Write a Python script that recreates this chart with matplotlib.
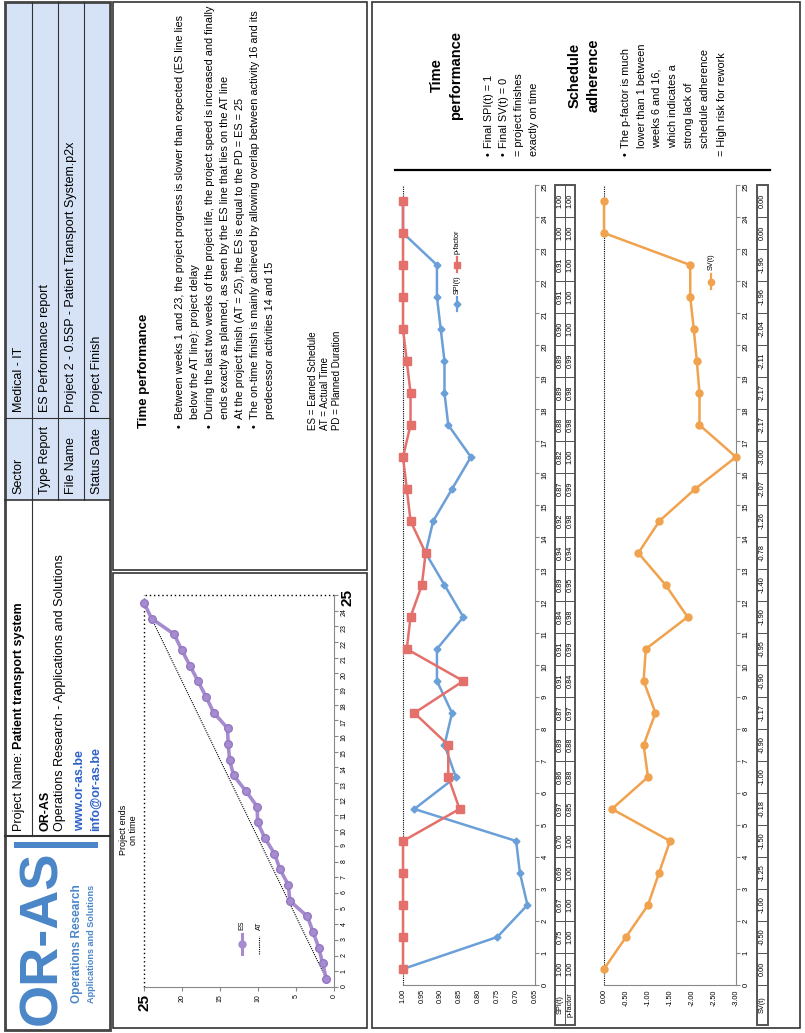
import matplotlib
matplotlib.use('Agg')
import matplotlib.pyplot as plt
from matplotlib.patches import Rectangle
from matplotlib.lines import Line2D

plt.rcParams['font.family'] = ['Liberation Sans', 'DejaVu Sans']

# ---------------- data ----------------
weeks = [1, 2, 3, 4, 5, 6, 7, 8, 9, 10, 11, 12, 13, 14, 15, 16, 17, 18, 19, 20, 21, 22, 23, 24, 25]
spi = [1.00, 0.75, 0.67, 0.69, 0.70, 0.97, 0.86, 0.89, 0.87, 0.91, 0.91, 0.84, 0.89,
       0.94, 0.92, 0.87, 0.82, 0.88, 0.89, 0.89, 0.90, 0.91, 0.91, 1.00, 1.00]
pfactor = [1.00, 1.00, 1.00, 1.00, 1.00, 0.85, 0.88, 0.88, 0.97, 0.84, 0.99, 0.98, 0.95,
           0.94, 0.98, 0.99, 1.00, 0.98, 0.98, 0.99, 1.00, 1.00, 1.00, 1.00, 1.00]
sv = [0.00, -0.50, -1.00, -1.25, -1.50, -0.18, -1.00, -0.90, -1.17, -0.90, -0.95, -1.90, -1.40,
      -0.78, -1.26, -2.07, -3.00, -2.17, -2.17, -2.11, -2.04, -1.96, -1.96, 0.00, 0.00]
es = [1.00, 1.50, 2.00, 2.75, 3.50, 5.82, 6.00, 7.10, 7.83, 9.10, 10.05, 10.10, 11.60,
      13.22, 13.74, 13.93, 14.00, 15.83, 16.83, 17.89, 18.96, 20.04, 21.04, 24.00, 25.00]
at = [1, 2, 3, 4, 5, 6, 7, 8, 9, 10, 11, 12, 13, 14, 15, 16, 17, 18, 19, 20, 21, 22, 23, 24, 25]
es_ticks = [0, 5, 10, 15, 20, 25]
spi_ticks = [1.00, 0.95, 0.90, 0.85, 0.80, 0.75, 0.70, 0.65]
sv_ticks = [0.00, -0.50, -1.00, -1.50, -2.00, -2.50, -3.00]

W, H = 805, 1033
fig = plt.figure(figsize=(W / 100, H / 100), dpi=100)
fig.patch.set_facecolor('white')

def fx(x):
    return x / W

def fy(y):
    return 1 - y / H

def add_ax(x0, y0, x1, y1):
    return fig.add_axes([fx(x0), fy(y1), (x1 - x0) / W, (y1 - y0) / H])

def rect(x0, y0, x1, y1, ec='#333333', lw=1.0, fc='none', z=0):
    fig.add_artist(Rectangle((fx(x0), fy(y1)), (x1 - x0) / W, (y1 - y0) / H,
                             transform=fig.transFigure, ec=ec, fc=fc, lw=lw, zorder=z))

def hline(x0, x1, y, color='#333333', lw=1.0, ls='-'):
    fig.add_artist(Line2D([fx(x0), fx(x1)], [fy(y), fy(y)], transform=fig.transFigure,
                          color=color, lw=lw, ls=ls))

def vline(x, y0, y1, color='#333333', lw=1.0, ls='-'):
    fig.add_artist(Line2D([fx(x), fx(x)], [fy(y0), fy(y1)], transform=fig.transFigure,
                          color=color, lw=lw, ls=ls))

def vtext(x, y, s, size, weight='normal', color='black', ha='left', **kw):
    return fig.text(fx(x), fy(y), s, rotation=90, rotation_mode='anchor', ha=ha,
                    va='center', fontsize=size, fontweight=weight, color=color, **kw)

# ---------------- header strip ----------------
blue_fill = '#d6e2f5'
rect(5, 2, 110, 500, ec='none', fc=blue_fill)
rect(5, 2, 110, 1030, ec='#444444', lw=2)
for xx in [32, 58, 84]:
    vline(xx, 2, 500, lw=0.8)
vline(32, 500, 836, lw=0.8)
hline(5, 110, 418, lw=0.8)
hline(5, 110, 500, lw=1.2)
hline(5, 110, 836, lw=1.5)

hdr_labels = ['Sector', 'Type Report', 'File Name', 'Status Date']
hdr_values = ['Medical - IT', 'ES Performance report',
              'Project 2 - 0.5SP - Patient Transport System.p2x', 'Project Finish']
for xc, lab, val in zip([18.5, 45, 71, 97], hdr_labels, hdr_values):
    vtext(xc, 494, lab, 9)
    vtext(xc, 412, val, 9)

t = vtext(18.5, 831, 'Project Name:', 9)
fig.canvas.draw()
bb = t.get_window_extent()
vtext(18.5, H - bb.y1 - 3, 'Patient transport system', 9, weight='bold')
vtext(45, 831, 'OR-AS', 9, weight='bold')
vtext(60, 831, 'Operations Research - Applications and Solutions', 9)
vtext(80, 831, 'www.or-as.be', 9, weight='bold', color='#2f62c8')
vtext(96, 831, 'info@or-as.be', 9, weight='bold', color='#2f62c8')

# logo
logo_blue = '#4a86c8'
vtext(42, 1025, 'OR-AS', 39, weight='bold', color=logo_blue)
vtext(77, 1003, 'Operations Research', 8.5, weight='bold', color=logo_blue)
vtext(91, 1003, 'Applications and Solutions', 6.6, weight='bold', color=logo_blue)
rect(14, 842, 98, 848, ec='none', fc=logo_blue)

# ---------------- middle text box ----------------
rect(113, 2, 367, 570, ec='#333333', lw=1.2)
vtext(144, 428, 'Time performance', 9.5, weight='bold')
bullets = [
    (180, True, 'Between weeks 1 and 23, the project progress is slower than expected (ES line lies'),
    (195, False, 'below the AT line): project delay'),
    (210, True, 'During the last two weeks of the project life, the project speed is increased and finally'),
    (225, False, 'ends exactly as planned, as seen by the ES line that lies on the AT line'),
    (240, True, 'At the project finish (AT = 25), the ES is equal to the PD = ES = 25'),
    (255, True, 'The on-time finish is mainly achieved by allowing overlap between activity 16 and its'),
    (270, False, 'predecessor activities 14 and 15'),
]
for xx, isb, s in bullets:
    if isb:
        vtext(xx, 428, '\u2022', 7.8)
    vtext(xx, 419, s, 7.8)
for xx, s in [(313, 'ES = Earned Schedule'), (325, 'AT = Actual Time'), (337, 'PD = Planned Duration')]:
    vtext(xx, 430, s, 7)

# ---------------- ES chart ----------------
rect(113, 573, 367, 1028, ec='#333333', lw=1.2)
pos = [w - 0.5 for w in weeks]
ax = add_ax(144, 595, 334, 987)
ax.set_xlim(25, 0)
ax.set_ylim(0, 25)
ax.plot(at, pos, ls=(0, (1, 1)), color='black', lw=0.8, zorder=2)
ax.plot(es, pos, color='#a68ccf', lw=2.6, marker='o', ms=5.5, mfc='#a68ccf',
        mec='#9478c4', clip_on=False, zorder=3)
ax.plot([25, 25], [0, 25], ls=(0, (1, 2)), color='black', lw=1, clip_on=False)
ax.plot([0, 25], [25, 25], ls=(0, (1, 2)), color='black', lw=1, clip_on=False)
for sp in ['left', 'top']:
    ax.spines[sp].set_visible(False)
for sp in ['right', 'bottom']:
    ax.spines[sp].set_color('#888888')
    ax.spines[sp].set_linewidth(0.8)
ax.yaxis.tick_right()
ax.set_yticks(list(range(26)), labels=[str(i) for i in range(26)])
ax.set_xticks(es_ticks, labels=[str(v) for v in es_ticks])
ax.tick_params(axis='y', labelrotation=90, labelsize=5, length=3, color='#888888', pad=2)
ax.tick_params(axis='x', labelrotation=90, labelsize=5, length=3, color='#888888', pad=2)
for lab in [ax.get_yticklabels()[-1], ax.get_xticklabels()[-1]]:
    lab.set_fontsize(11)
    lab.set_fontweight('bold')
ax.patch.set_alpha(0)
vtext(124, 830, 'Project ends', 6.5, ha='center')
vtext(134, 830, 'on time', 6.5, ha='center')
# legend
fig.add_artist(Line2D([fx(242), fx(242)], [fy(954), fy(934)], transform=fig.transFigure,
                      color='#a68ccf', lw=2.2))
fig.add_artist(Line2D([fx(242)], [fy(944)], transform=fig.transFigure, marker='o', ms=5,
                      color='#a68ccf'))
vtext(242, 930, 'ES', 5)
fig.add_artist(Line2D([fx(259), fx(259)], [fy(954), fy(936)], transform=fig.transFigure,
                      color='black', lw=0.8, ls=(0, (1, 1))))
vtext(259, 930, 'AT', 5)

# ---------------- right panel ----------------
rect(372, 2, 800, 1028, ec='#333333', lw=1.2)
hline(395, 770, 170, color='black', lw=1.6)

vtext(437, 75, 'Time', 10.5, weight='bold', ha='center')
vtext(456, 75, 'performance', 10.5, weight='bold', ha='center')
for xx, isb, s in [(489, True, 'Final SPI(t) = 1'), (504, True, 'Final SV(t) = 0'),
                   (519, None, '= project finishes'), (534, None, 'exactly on time')]:
    if isb:
        vtext(xx, 156, '\u2022', 7.8)
        vtext(xx, 148, s, 7.8)
    else:
        vtext(xx, 156, s, 7.8)
vtext(575, 75, 'Schedule', 10.5, weight='bold', ha='center')
vtext(594, 75, 'adherence', 10.5, weight='bold', ha='center')
plines = [(626, True, 'The p-factor is much'), (642, False, 'lower than 1 between'),
          (657, False, 'weeks 6 and 16,'), (673, False, 'which indicates a'),
          (689, False, 'strong lack of'), (705, False, 'schedule adherence'),
          (722, None, '= High risk for rework')]
for xx, isb, s in plines:
    if isb:
        vtext(xx, 156, '\u2022', 7.8)
        vtext(xx, 148, s, 7.8)
    elif isb is False:
        vtext(xx, 148, s, 7.8)
    else:
        vtext(xx, 156, s, 7.8)

def style_axis(a, xt, xlabels):
    for sp in ['left', 'top']:
        a.spines[sp].set_visible(False)
    for sp in ['right', 'bottom']:
        a.spines[sp].set_color('#888888')
        a.spines[sp].set_linewidth(0.8)
    a.yaxis.tick_right()
    a.set_yticks(list(range(26)), labels=[str(i) for i in range(26)])
    a.set_xticks(xt, labels=xlabels)
    a.tick_params(axis='y', labelrotation=90, labelsize=5.5, length=3, color='#888888', pad=2)
    a.tick_params(axis='x', labelrotation=90, labelsize=5.2, length=0, pad=3)
    a.patch.set_alpha(0)

# SPI / p-factor chart
spi_blue = '#6a9fd8'
pf_red = '#e3706b'
ax2 = add_ax(403, 185, 535, 985)
ax2.set_xlim(1.0, 0.65)
ax2.set_ylim(0, 25)
ax2.plot([1.0, 1.0], [0, 25], ls=(0, (1, 1)), color='black', lw=0.8, clip_on=False)
ax2.plot(spi, pos, color=spi_blue, lw=1.8, marker='D', ms=3.5, clip_on=False, zorder=3)
ax2.plot(pfactor, pos, color=pf_red, lw=1.8, marker='s', ms=5.2, clip_on=False, zorder=4)
style_axis(ax2, spi_ticks, [f'{v:.2f}' for v in spi_ticks])

# SV chart
sv_orange = '#f0a24e'
ax3 = add_ax(604, 185, 736, 985)
ax3.set_xlim(0, -3)
ax3.set_ylim(0, 25)
ax3.plot([0, 0], [0, 25], ls=(0, (1, 1)), color='black', lw=0.8, clip_on=False)
ax3.plot(sv, pos, color=sv_orange, lw=1.8, marker='o', ms=5, clip_on=False, zorder=3)
style_axis(ax3, sv_ticks, [f'{v:.2f}' for v in sv_ticks])

# legends
def leg(x, y0, y1, color, marker, ms, label, ly):
    fig.add_artist(Line2D([fx(x), fx(x)], [fy(y0), fy(y1)], transform=fig.transFigure,
                          color=color, lw=1.6))
    fig.add_artist(Line2D([fx(x)], [fy((y0 + y1) / 2)], transform=fig.transFigure,
                          marker=marker, ms=ms, color=color))
    vtext(x, ly, label, 5.2)

leg(457, 311, 297, spi_blue, 'D', 3.5, 'SPI(t)', 294)
leg(457, 272, 257, pf_red, 's', 5, 'p-factor', 254)
leg(711, 289, 274, sv_orange, 'o', 4.5, 'SV(t)', 270)

# tables
def table(x0, x1, rows, names):
    ta = add_ax(x0, 185, x1, 1025)
    ta.set_xlim(0, len(rows))
    ta.set_ylim(-1.25, 25)
    ta.axis('off')
    for j, (vals, name) in enumerate(zip(rows, names)):
        for i, v in enumerate(vals):
            ta.add_patch(Rectangle((j, i), 1, 1, fill=False, ec='#555555', lw=0.7))
            ta.text(j + 0.5, i + 0.5, f'{v:.2f}', rotation=90, ha='center', va='center',
                    fontsize=5.3)
        ta.add_patch(Rectangle((j, -1.25), 1, 1.25, fill=False, ec='#555555', lw=0.7))
        ta.text(j + 0.5, -0.625, name, rotation=90, ha='center', va='center', fontsize=5.3)
    ta.add_patch(Rectangle((0, -1.25), len(rows), 26.25, fill=False, ec='#555555', lw=1.4,
                           clip_on=False))

table(555, 575, [spi, pfactor], ['SPI(t)', 'p-factor'])
table(757, 768, [sv], ['SV(t)'])

fig.savefig('out.png', dpi=100)
